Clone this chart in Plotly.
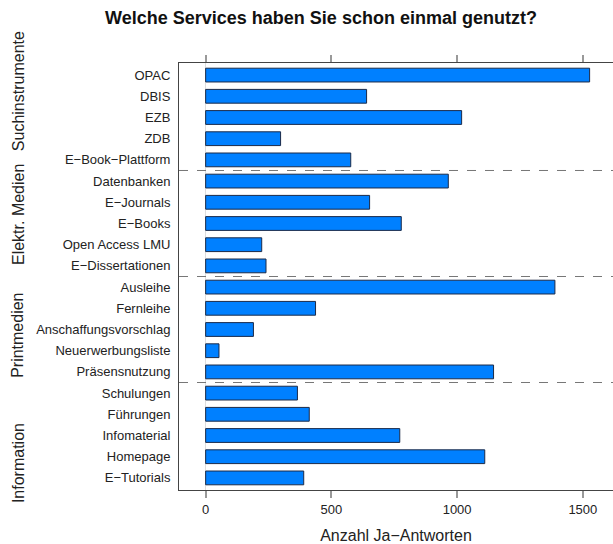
import plotly.graph_objects as go

services = ["OPAC", "DBIS", "EZB", "ZDB", "E−Book−Plattform",
            "Datenbanken", "E−Journals", "E−Books", "Open Access LMU", "E−Dissertationen",
            "Ausleihe", "Fernleihe", "Anschaffungsvorschlag", "Neuerwerbungsliste", "Präsensnutzung",
            "Schulungen", "Führungen", "Infomaterial", "Homepage", "E−Tutorials"]
ja_antworten = [1527, 640, 1018, 298, 577,
                965, 652, 778, 223, 240,
                1389, 437, 190, 53, 1145,
                365, 412, 772, 1110, 390]
groups = ["Suchinstrumente", "Elektr. Medien", "Printmedien", "Information"]
group_sizes = [5, 5, 5, 5]
x_ticks = [0, 500, 1000, 1500]

W, H = 613, 544
L, R, T, B = 179, 0, 63, 54
font = "Liberation Sans, Arial, sans-serif"

ypos = list(range(len(services)))

fig = go.Figure(go.Bar(
    x=ja_antworten, y=ypos, orientation="h", width=0.65,
    marker=dict(color="#0080FF", line=dict(color="#1B2A48", width=1)),
    hoverinfo="skip",
))

shapes = []
cum = 0
for s in group_sizes[:-1]:
    cum += s
    shapes.append(dict(type="line", xref="paper", yref="y", x0=0, x1=1,
                       y0=cum - 0.5, y1=cum - 0.5,
                       line=dict(color="#777777", width=1, dash="dash")))

group_label_y = [0.934, 0.644, 0.361, 0.063]
annotations = []
for g, gy in zip(groups, group_label_y):
    annotations.append(dict(text=g, xref="paper", yref="paper",
                            x=(18 - L) / (W - L - R), y=gy, showarrow=False,
                            textangle=-90, xanchor="center", yanchor="middle",
                            font=dict(family=font, size=16, color="#222222")))

fig.update_layout(
    width=W, height=H,
    margin=dict(l=L, r=R, t=T, b=B, autoexpand=False),
    paper_bgcolor="white", plot_bgcolor="white",
    showlegend=False,
    title=dict(text="<b>Welche Services haben Sie schon einmal genutzt?</b>",
               xref="container", x=321 / W, xanchor="center",
               yref="container", y=1 - 18 / H, yanchor="middle",
               font=dict(family=font, size=18, color="#111111")),
    shapes=shapes,
    annotations=annotations,
    bargap=0.35,
)

fig.update_xaxes(
    automargin=False,
    range=[-106, 1620], tickvals=x_ticks, ticktext=[str(v) for v in x_ticks],
    ticks="outside", ticklen=7, tickcolor="#999999", tickwidth=1.5,
    showline=True, linecolor="#444444", linewidth=1, mirror="ticks",
    showgrid=False, zeroline=True, zerolinecolor="#DDDDDD", zerolinewidth=1,
    tickfont=dict(family=font, size=13, color="#222222"),
    title=dict(text="Anzahl Ja−Antworten", standoff=16,
               font=dict(family=font, size=16, color="#222222")),
)
fig.update_yaxes(
    automargin=False,
    range=[19.57, -0.57], tickvals=ypos, ticktext=services,
    ticks="", showline=True, linecolor="#444444", linewidth=1, mirror=True,
    showgrid=False, zeroline=False, ticklabelstandoff=5,
    tickfont=dict(family=font, size=13, color="#222222"),
)

fig.write_html("out.html", config={"displayModeBar": False},
               post_script="document.body.style.margin='0';document.body.style.overflow='hidden';")
